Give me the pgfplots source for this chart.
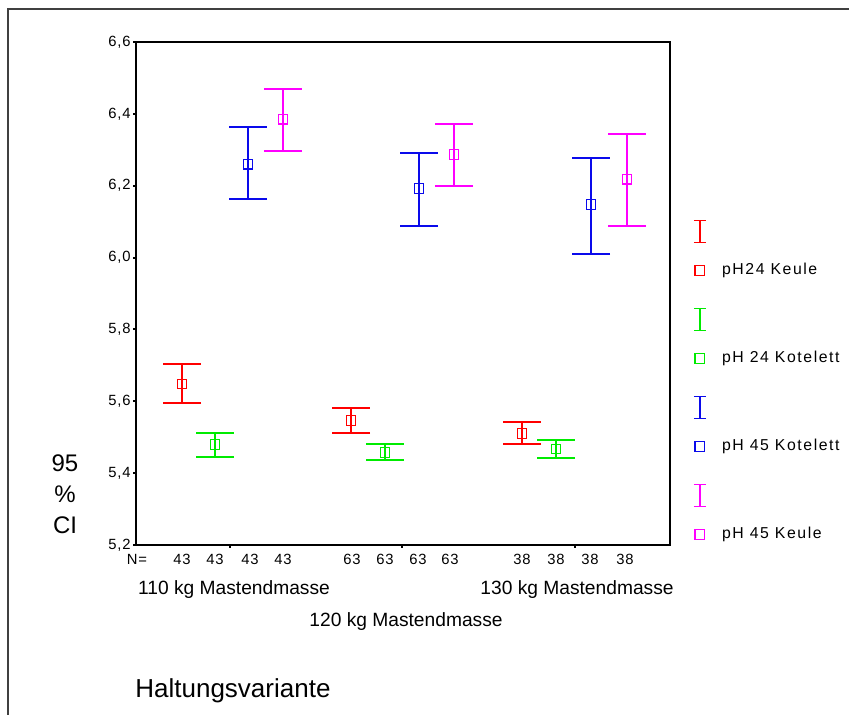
\documentclass[border=0pt]{standalone}
\usepackage{fontspec}
\setmainfont{Liberation Sans}
\usepackage{pgfplots}
\pgfplotsset{compat=1.18}

\definecolor{cRed}{RGB}{255,0,0}
\definecolor{cGreen}{RGB}{0,235,0}
\definecolor{cBlue}{RGB}{10,10,235}
\definecolor{cPink}{RGB}{255,0,255}

\pgfplotsset{
  ci/.style={
    only marks, mark=square, mark size=2.4pt, line width=0.6pt,
    /pgfplots/error bars/y dir=both,
    /pgfplots/error bars/y explicit,
    /pgfplots/error bars/error bar style={line width=1pt},
    /pgfplots/error bars/error mark options={rotate=90, line width=1pt, mark size=9.5pt},
  },
}

\begin{document}
\begin{tikzpicture}[x=0.5pt,y=0.5pt]
\clip (0,0) rectangle (849,715);
% outer frame (only top and left visible)
\draw[line width=1pt, black!75] (8,0) -- (8,706) -- (849,706);
\coordinate (O) at (136,170);

\begin{axis}[
    at={(O)}, anchor=south west,
    scale only axis, width=267pt, height=251.5pt,
    xmin=136, xmax=670, ymin=5.2, ymax=6.6,
    axis line style={line width=1pt},
    tick align=outside, major tick length=1.5pt,
    tick style={line width=1pt, black},
    xtick pos=bottom, ytick pos=left,
    ytick={5.2,5.4,5.6,5.8,6.0,6.2,6.4,6.6},
    yticklabel style={inner sep=1pt, /pgf/number format/.cd, fixed, fixed zerofill, precision=1, use comma},
    /pgf/number format/assume math mode=true,
    tick label style={font=\fontsize{7.4}{8}\selectfont\addfontfeature{LetterSpace=6}},
    xtick={230,402,575}, xticklabels={},
    extra x ticks={137,182,215,250,283,352,385,418,450,522,556,590,625},
    extra x tick labels={N=,43,43,43,43,63,63,63,63,38,38,38,38},
    extra x tick style={major tick length=0pt, tick label style={yshift=-1pt}},
    legend style={
      at={(axis description cs:1.046,0.561)}, anchor=north west,
      draw=none, fill=none, inner sep=0pt, row sep=36.8pt, column sep=8.75pt,
      nodes={inner sep=0pt},
      font=\fontsize{7.9}{9}\selectfont\addfontfeature{LetterSpace=10},
    },
    legend cell align=left,
    legend image code/.code={
      \draw[#1, only marks, mark=square, mark size=2.4pt, line width=0.6pt] plot coordinates {(0pt,0pt)};
      \draw[#1, overlay, line width=0.8pt] (0pt,14pt) -- (0pt,25pt)
         (-3pt,14pt) -- (3pt,14pt) (-3pt,25pt) -- (3pt,25pt);
    },
  ]

  % pH24 Keule
  \addplot[color=cRed, ci] coordinates {
    (182,5.648) += (0,0.056) -= (0,0.054)
    (351,5.546) += (0,0.036) -= (0,0.033)
    (522,5.510) += (0,0.031) -= (0,0.029)
  };
  % pH 24 Kotelett
  \addplot[color=cGreen, ci] coordinates {
    (215,5.480) += (0,0.033) -= (0,0.036)
    (385,5.457) += (0,0.024) -= (0,0.020)
    (556,5.467) += (0,0.026) -= (0,0.025)
  };
  % pH 45 Kotelett
  \addplot[color=cBlue, ci] coordinates {
    (248,6.260) += (0,0.102) -= (0,0.098)
    (419,6.192) += (0,0.098) -= (0,0.105)
    (591,6.148) += (0,0.130) -= (0,0.139)
  };
  % pH 45 Keule
  \addplot[color=cPink, ci] coordinates {
    (283,6.385) += (0,0.084) -= (0,0.088)
    (454,6.287) += (0,0.084) -= (0,0.088)
    (627,6.218) += (0,0.125) -= (0,0.130)
  };
  \legend{pH24 Keule, pH 24 Kotelett, pH 45 Kotelett, pH 45 Keule}
\end{axis}

% category labels
\begin{scope}[every node/.style={font=\fontsize{9.6}{11}\selectfont, anchor=base, inner sep=0pt}]
  \node at (234,120) {110 kg Mastendmasse};
  \node at (577,120) {130 kg Mastendmasse};
  \node at (406,88) {120 kg Mastendmasse};
\end{scope}
\node[font=\fontsize{12}{15.5}\selectfont, align=center, inner sep=0pt] at (65,221) {95\\\%\\CI};
\node[font=\fontsize{13}{15}\selectfont, anchor=base west, inner sep=0pt] at (135,17) {Haltungsvariante};
\end{tikzpicture}
\end{document}
